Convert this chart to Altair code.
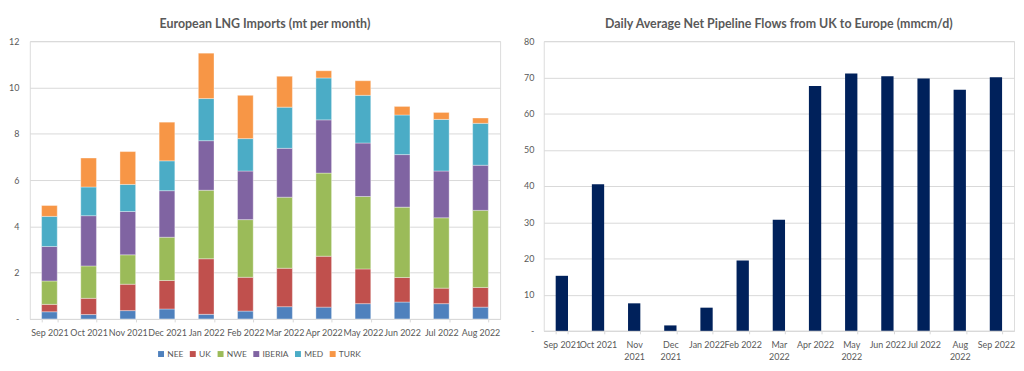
import altair as alt
import pandas as pd

# ---- data: left chart (mt per month) ----
months = ["Sep 2021", "Oct 2021", "Nov 2021", "Dec 2021", "Jan 2022", "Feb 2022",
          "Mar 2022", "Apr 2022", "May 2022", "Jun 2022", "Jul 2022", "Aug 2022"]
regions = ["NEE", "UK", "NWE", "IBERIA", "MED", "TURK"]
region_colors = ["#4F81BD", "#C0504D", "#9BBB59", "#8064A2", "#4BACC6", "#F79646"]
nee    = [0.31, 0.19, 0.36, 0.43, 0.20, 0.34, 0.53, 0.51, 0.66, 0.73, 0.66, 0.51]
uk     = [0.32, 0.70, 1.14, 1.23, 2.40, 1.46, 1.66, 2.20, 1.50, 1.06, 0.67, 0.85]
nwe    = [1.01, 1.40, 1.27, 1.87, 2.96, 2.49, 3.07, 3.59, 3.13, 3.04, 3.04, 3.33]
iberia = [1.49, 2.17, 1.87, 2.01, 2.14, 2.10, 2.11, 2.30, 2.31, 2.27, 2.02, 1.95]
med    = [1.30, 1.24, 1.17, 1.29, 1.82, 1.40, 1.78, 1.81, 2.06, 1.71, 2.23, 1.81]
turk   = [0.47, 1.25, 1.42, 1.67, 1.96, 1.87, 1.33, 0.31, 0.63, 0.37, 0.30, 0.23]

# ---- data: right chart (mmcm/d) ----
flow_months = ["Sep 2021", "Oct 2021", "Nov 2021", "Dec 2021", "Jan 2022", "Feb 2022",
               "Mar 2022", "Apr 2022", "May 2022", "Jun 2022", "Jul 2022", "Aug 2022",
               "Sep 2022"]
flows = [15.2, 40.5, 7.6, 1.5, 6.4, 19.4, 30.7, 67.6, 71.1, 70.3, 69.7, 66.6, 70.0]
wrapped_labels = ["Nov 2021", "Dec 2021", "Mar 2022", "May 2022", "Aug 2022"]

FONT = "Lato"
TXT = "#595959"
GRID = "#D9D9D9"
LBL = 9

series = [nee, uk, nwe, iberia, med, turk]
rows = []
for ri, (r, vals) in enumerate(zip(regions, series)):
    for m, v in zip(months, vals):
        rows.append({"month": m, "region": r, "value": v, "order": ri})
lng = pd.DataFrame(rows)

flow_df = pd.DataFrame({"month": flow_months, "flow": flows})

left = alt.Chart(lng).mark_bar(stroke="white", strokeWidth=0.5, strokeOpacity=0.7).encode(
    x=alt.X("month:N", sort=months, title=None,
            scale=alt.Scale(paddingInner=0.6, paddingOuter=0.3),
            axis=alt.Axis(labelAngle=0, labelOverlap=False, tickBand="extent",
                          tickSize=3, labelPadding=7, domainColor=GRID, tickColor=GRID,
                          labelColor=TXT, labelFontSize=LBL, labelFont=FONT)),
    y=alt.Y("value:Q", title=None, stack="zero",
            scale=alt.Scale(domain=[0, 12], nice=False),
            axis=alt.Axis(values=[0, 2, 4, 6, 8, 10, 12], domain=False, ticks=False,
                          labelPadding=11, minExtent=19, maxExtent=19,
                          gridColor=GRID, labelColor=TXT, labelFontSize=LBL, labelFont=FONT,
                          labelExpr="datum.value == 0 ? '-' : datum.label")),
    color=alt.Color("region:N", scale=alt.Scale(domain=regions, range=region_colors),
                    legend=alt.Legend(title=None, orient="none", direction="horizontal",
                                      legendX=128, legendY=311, symbolType="square",
                                      symbolSize=36, symbolStrokeWidth=0,
                                      columnPadding=5, labelOffset=2,
                                      labelFontSize=8.5, labelColor=TXT, labelFont=FONT)),
    order=alt.Order("order:Q", sort="ascending"),
).properties(
    width=474, height=280,
    title=alt.TitleParams("European LNG Imports (mt per month)", fontSize=12.5,
                          font=FONT, fontWeight="bold", color=TXT, offset=7),
)

right = alt.Chart(flow_df).mark_bar(color="#00215B").encode(
    x=alt.X("month:N", sort=flow_months, title=None,
            scale=alt.Scale(paddingInner=0.66, paddingOuter=0.33),
            axis=alt.Axis(labelAngle=0, labelOverlap=False, tickBand="extent",
                          tickSize=3, labelPadding=7, domainColor=GRID, tickColor=GRID,
                          labelColor=TXT, labelFontSize=LBL, labelFont=FONT,
                          labelLineHeight=12,
                          labelExpr="indexof(" + str(wrapped_labels) + ", datum.value) >= 0 ? split(datum.value, ' ') : datum.value")),
    y=alt.Y("flow:Q", title=None,
            scale=alt.Scale(domain=[0, 80], nice=False),
            axis=alt.Axis(values=[0, 10, 20, 30, 40, 50, 60, 70, 80], domain=False, ticks=False,
                          labelPadding=10, minExtent=20, maxExtent=20,
                          gridColor=GRID, labelColor=TXT, labelFontSize=LBL, labelFont=FONT,
                          labelExpr="datum.value == 0 ? '-' : datum.label")),
).properties(
    width=474, height=292,
    title=alt.TitleParams("Daily Average Net Pipeline Flows from UK to Europe (mmcm/d)",
                          fontSize=12.5, font=FONT, fontWeight="bold", color=TXT, offset=7),
)

chart = alt.hconcat(left, right, spacing=22).properties(
    padding={"left": 0, "top": 8, "right": 0, "bottom": 0}
).configure_view(stroke=None).configure(background="white")

chart.save("out.html", embed_options={"renderer": "svg", "actions": False})
